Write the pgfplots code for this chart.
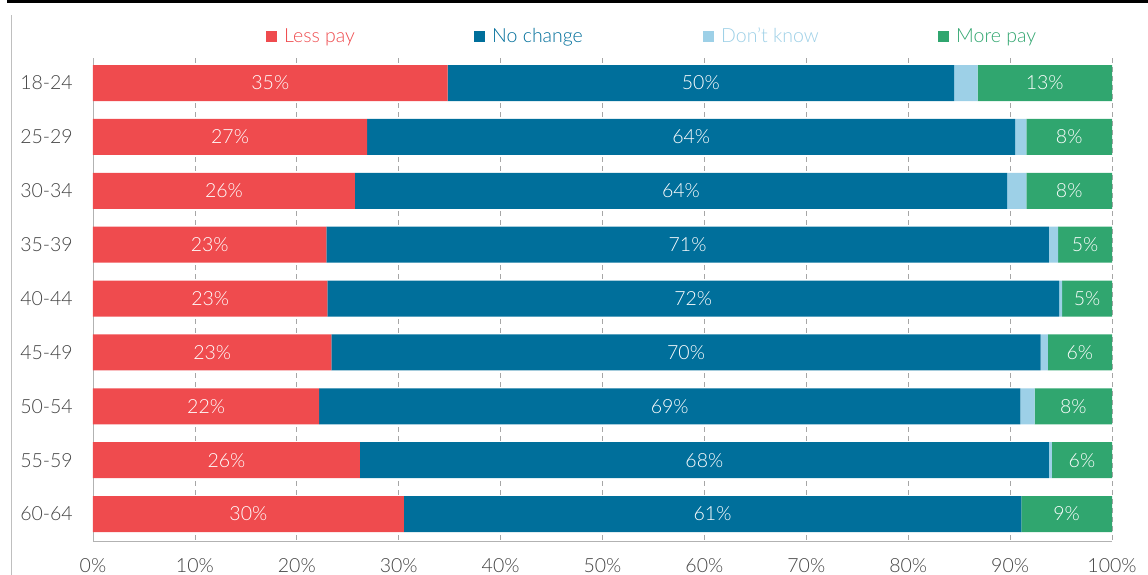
\documentclass[border=0pt]{standalone}
\usepackage{pgfplots}
\pgfplotsset{compat=1.18}
\usepackage{pgfplotstable}
\usepackage{fontspec}
\setmainfont{Lato Light}

\definecolor{lesspay}{HTML}{EF4B4E}
\definecolor{nochange}{HTML}{006F9B}
\definecolor{dontknow}{HTML}{9DD0E7}
\definecolor{morepay}{HTML}{30A66F}
\definecolor{ticktext}{HTML}{444444}

% shares; lL/lN/lM are the printed (rounded) labels
\pgfplotstableread{
age   less nochg dk  more lL lN lM
18-24 34.8 49.7 2.3 13.2 35 50 13
25-29 26.9 63.6 1.1 8.4  27 64 8
30-34 25.7 64.0 1.9 8.4  26 64 8
35-39 22.9 70.9 0.9 5.3  23 71 5
40-44 23.0 71.8 0.3 4.9  23 72 5
45-49 23.4 69.6 0.7 6.3  23 70 6
50-54 22.2 68.8 1.4 7.6  22 69 8
55-59 26.2 67.6 0.3 5.9  26 68 6
60-64 30.5 60.6 0.0 8.9  30 61 9
}\paydata

\newcommand{\chartfont}{\fontsize{19.5}{22}\selectfont}

\pgfplotsset{
  base/.style={
    scale only axis, width=1019pt, height=483pt,
    xmin=0, xmax=100, ymin=-0.464, ymax=8.5, y dir=reverse,
  },
}

\begin{document}
\begin{tikzpicture}
\begin{axis}[
    base,
    xbar stacked,
    bar width=36pt,
    axis x line*=bottom,
    axis y line*=left,
    axis line style={-, draw=gray!60, line width=0.8pt},
    major tick length=0pt,
    xtick={0,10,...,100},
    xticklabels={0\%,10\%,20\%,30\%,40\%,50\%,60\%,70\%,80\%,90\%,100\%},
    ytick={0,...,8},
    yticklabels from table={\paydata}{age},
    xmajorgrids,
    grid style={draw=gray!70, line width=0.8pt, dash pattern=on 5pt off 4pt},
    tick label style={font=\chartfont, text=ticktext},
    xticklabel style={anchor=base, yshift=-31pt},
    yticklabel style={anchor=east, inner sep=0pt, xshift=-20pt},
    legend columns=4,
    legend style={
      at={(axis description cs:0.1698,1)}, anchor=west, yshift=22pt,
      draw=none, inner sep=0pt, font=\chartfont,
      nodes={inner sep=0pt},
      /tikz/every odd column/.append style={column sep=7pt},
      /tikz/every even column/.append style={column sep=0pt},
    },
    legend image code/.code={\fill[#1] (0pt,-5.5pt) rectangle (11pt,5.5pt);},
]
\addplot[fill=lesspay, draw=none] table[x=less, y expr=\coordindex] {\paydata};
\addplot[fill=nochange, draw=none] table[x=nochg, y expr=\coordindex] {\paydata};
\addplot[fill=dontknow, draw=none] table[x=dk, y expr=\coordindex] {\paydata};
\addplot[fill=morepay, draw=none] table[x=more, y expr=\coordindex] {\paydata};
\legend{\makebox[190pt][l]{\textcolor{lesspay}{Less pay}},
        \makebox[211pt][l]{\textcolor{nochange}{No change}},
        \makebox[217pt][l]{\textcolor{dontknow}{Don't know}},
        \textcolor{morepay}{More pay}}
\end{axis}

% value labels, centred in their segments
\begin{axis}[
    base, hide axis,
    nodes near coords={\pgfplotspointmeta\%},
    point meta=explicit symbolic,
    every node near coord/.style={text=white, anchor=center, font=\chartfont},
]
\addplot[draw=none, mark=none] table[x expr=\thisrow{less}/2, y expr=\coordindex, meta=lL] {\paydata};
\addplot[draw=none, mark=none] table[x expr=\thisrow{less}+\thisrow{nochg}/2, y expr=\coordindex, meta=lN] {\paydata};
\addplot[draw=none, mark=none] table[x expr=100-\thisrow{more}/2, y expr=\coordindex, meta=lM] {\paydata};
\end{axis}

% frame rules of the original graphic
\draw[line width=3pt, black] (-86pt,539pt) -- (1055pt,539pt);
\draw[line width=0.8pt, gray!50] (-82pt,-34pt) -- (-82pt,526pt);
\pgfresetboundingbox
\useasboundingbox (-93pt,-34pt) rectangle (1055pt,541pt);
\end{tikzpicture}
\end{document}
